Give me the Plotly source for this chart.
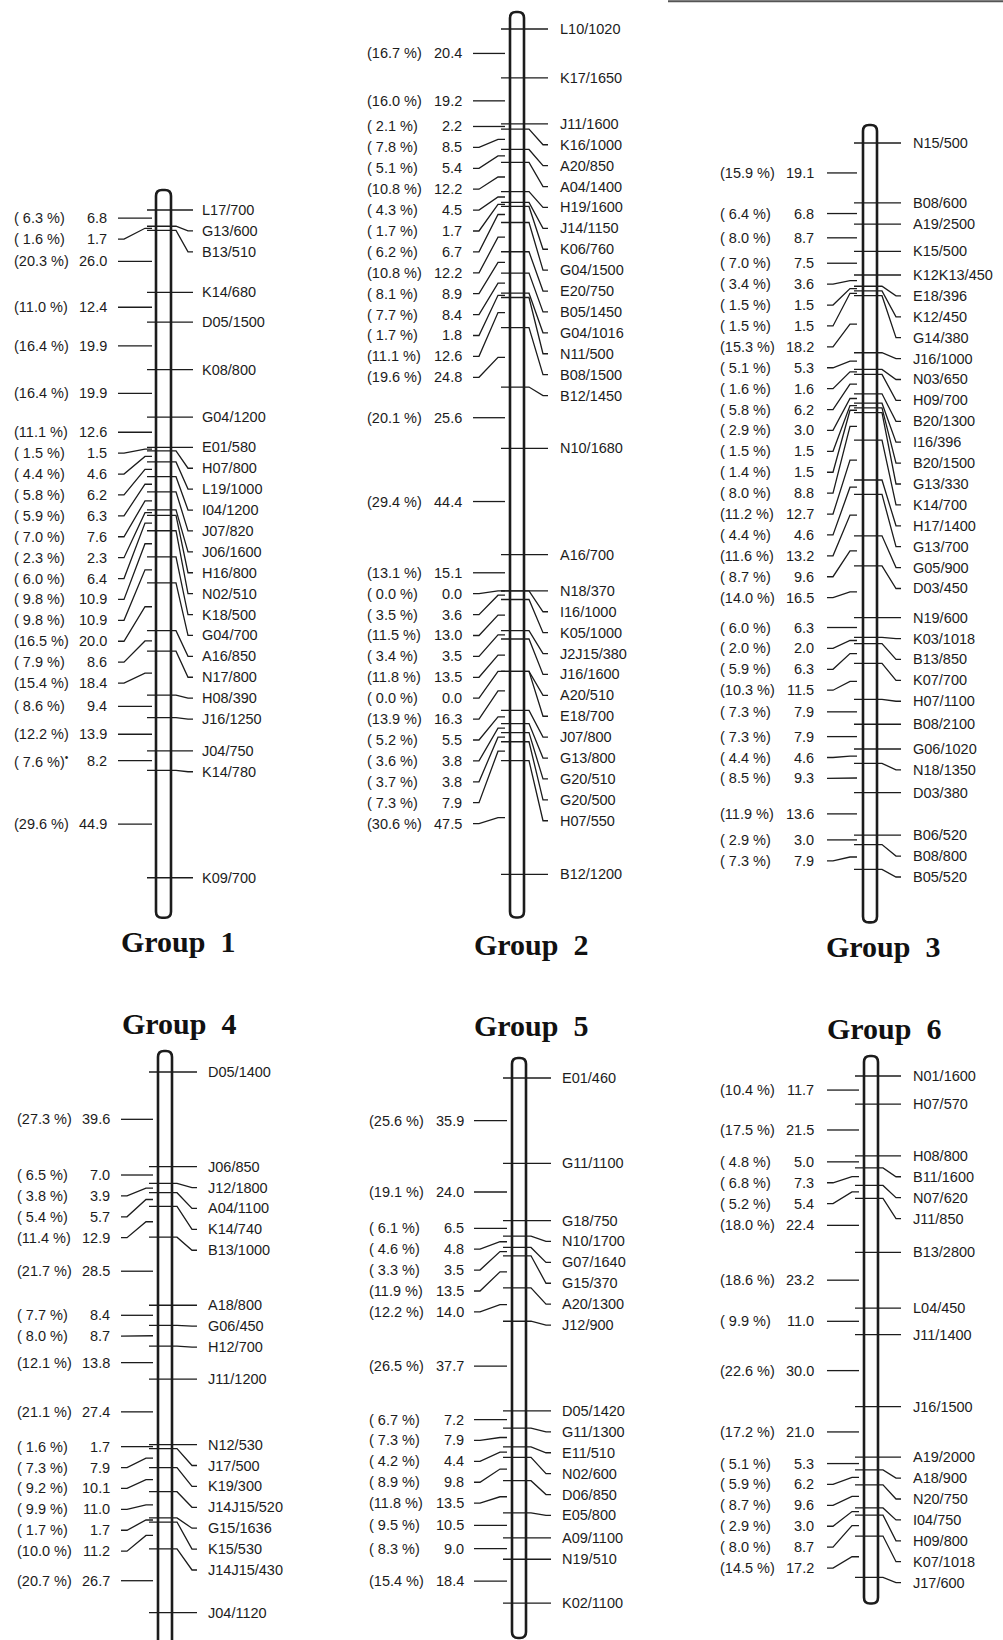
import plotly.graph_objects as go

# ------------------------------------------------------------------ data
G1_MARKERS = ["L17/700", "G13/600", "B13/510", "K14/680", "D05/1500", "K08/800",
              "G04/1200", "E01/580", "H07/800", "L19/1000", "I04/1200", "J07/820",
              "J06/1600", "H16/800", "N02/510", "K18/500", "G04/700", "A16/850",
              "N17/800", "H08/390", "J16/1250", "J04/750", "K14/780", "K09/700"]
G1_CM = [6.8, 1.7, 26.0, 12.4, 19.9, 19.9, 12.6, 1.5, 4.6, 6.2, 6.3, 7.6, 2.3,
         6.4, 10.9, 10.9, 20.0, 8.6, 18.4, 9.4, 13.9, 8.2, 44.9]
G1_PCT = [6.3, 1.6, 20.3, 11.0, 16.4, 16.4, 11.1, 1.5, 4.4, 5.8, 5.9, 7.0, 2.3,
          6.0, 9.8, 9.8, 16.5, 7.9, 15.4, 8.6, 12.2, 7.6, 29.6]

G2_MARKERS = ["L10/1020", "K17/1650", "J11/1600", "K16/1000", "A20/850", "A04/1400",
              "H19/1600", "J14/1150", "K06/760", "G04/1500", "E20/750", "B05/1450",
              "G04/1016", "N11/500", "B08/1500", "B12/1450", "N10/1680", "A16/700",
              "N18/370", "I16/1000", "K05/1000", "J2J15/380", "J16/1600", "A20/510",
              "E18/700", "J07/800", "G13/800", "G20/510", "G20/500", "H07/550",
              "B12/1200"]
G2_CM = [20.4, 19.2, 2.2, 8.5, 5.4, 12.2, 4.5, 1.7, 6.7, 12.2, 8.9, 8.4, 1.8, 12.6,
         24.8, 25.6, 44.4, 15.1, 0.0, 3.6, 13.0, 3.5, 13.5, 0.0, 16.3, 5.5, 3.8,
         3.8, 7.9, 47.5]
G2_PCT = [16.7, 16.0, 2.1, 7.8, 5.1, 10.8, 4.3, 1.7, 6.2, 10.8, 8.1, 7.7, 1.7, 11.1,
          19.6, 20.1, 29.4, 13.1, 0.0, 3.5, 11.5, 3.4, 11.8, 0.0, 13.9, 5.2, 3.6,
          3.7, 7.3, 30.6]

G3_MARKERS = ["N15/500", "B08/600", "A19/2500", "K15/500", "K12K13/450", "E18/396",
              "K12/450", "G14/380", "J16/1000", "N03/650", "H09/700", "B20/1300",
              "I16/396", "B20/1500", "G13/330", "K14/700", "H17/1400", "G13/700",
              "G05/900", "D03/450", "N19/600", "K03/1018", "B13/850", "K07/700",
              "H07/1100", "B08/2100", "G06/1020", "N18/1350", "D03/380", "B06/520",
              "B08/800", "B05/520"]
G3_CM = [19.1, 6.8, 8.7, 7.5, 3.6, 1.5, 1.5, 18.2, 5.3, 1.6, 6.2, 3.0, 1.5, 1.5,
         8.8, 12.7, 4.6, 13.2, 9.6, 16.5, 6.3, 2.0, 6.3, 11.5, 7.9, 7.9, 4.6, 9.3,
         13.6, 3.0, 7.9]
G3_PCT = [15.9, 6.4, 8.0, 7.0, 3.4, 1.5, 1.5, 15.3, 5.1, 1.6, 5.8, 2.9, 1.5, 1.4,
          8.0, 11.2, 4.4, 11.6, 8.7, 14.0, 6.0, 2.0, 5.9, 10.3, 7.3, 7.3, 4.4, 8.5,
          11.9, 2.9, 7.3]

G4_MARKERS = ["D05/1400", "J06/850", "J12/1800", "A04/1100", "K14/740", "B13/1000",
              "A18/800", "G06/450", "H12/700", "J11/1200", "N12/530", "J17/500",
              "K19/300", "J14J15/520", "G15/1636", "K15/530", "J14J15/430", "J04/1120"]
G4_CM = [39.6, 7.0, 3.9, 5.7, 12.9, 28.5, 8.4, 8.7, 13.8, 27.4, 1.7, 7.9, 10.1,
         11.0, 1.7, 11.2, 26.7]
G4_PCT = [27.3, 6.5, 3.8, 5.4, 11.4, 21.7, 7.7, 8.0, 12.1, 21.1, 1.6, 7.3, 9.2,
          9.9, 1.7, 10.0, 20.7]

G5_MARKERS = ["E01/460", "G11/1100", "G18/750", "N10/1700", "G07/1640", "G15/370",
              "A20/1300", "J12/900", "D05/1420", "G11/1300", "E11/510", "N02/600",
              "D06/850", "E05/800", "A09/1100", "N19/510", "K02/1100"]
G5_CM = [35.9, 24.0, 6.5, 4.8, 3.5, 13.5, 14.0, 37.7, 7.2, 7.9, 4.4, 9.8, 13.5,
         10.5, 9.0, 18.4]
G5_PCT = [25.6, 19.1, 6.1, 4.6, 3.3, 11.9, 12.2, 26.5, 6.7, 7.3, 4.2, 8.9, 11.8,
          9.5, 8.3, 15.4]

G6_MARKERS = ["N01/1600", "H07/570", "H08/800", "B11/1600", "N07/620", "J11/850",
              "B13/2800", "L04/450", "J11/1400", "J16/1500", "A19/2000", "A18/900",
              "N20/750", "I04/750", "H09/800", "K07/1018", "J17/600"]
G6_CM = [11.7, 21.5, 5.0, 7.3, 5.4, 22.4, 23.2, 11.0, 30.0, 21.0, 5.3, 6.2, 9.6,
         3.0, 8.7, 17.2]
G6_PCT = [10.4, 17.5, 4.8, 6.8, 5.2, 18.0, 18.6, 9.9, 22.6, 17.2, 5.1, 5.9, 8.7,
          2.9, 8.0, 14.5]

GROUP_NAMES = ["Group 1", "Group 2", "Group 3", "Group 4", "Group 5", "Group 6"]
# (group index, interval index) of the flagged interval
FLAGGED = [(0, 21)]

GROUPS = [
    (G1_MARKERS, G1_CM, G1_PCT),
    (G2_MARKERS, G2_CM, G2_PCT),
    (G3_MARKERS, G3_CM, G3_PCT),
    (G4_MARKERS, G4_CM, G4_PCT),
    (G5_MARKERS, G5_CM, G5_PCT),
    (G6_MARKERS, G6_CM, G6_PCT),
]

# ------------------------------------------------------------------ layout / style
W, H = 1003, 1640
GAP_PX = 20.9
INK = "#1c1c1c"
SANS = "Liberation Sans, Arial, Helvetica, sans-serif"
SERIF = "Liberation Serif, Times New Roman, serif"
FS = 14.5

# top: pixel row of the first marker, scale: pixels per cM
PANELS = [
    dict(top=210, scale=2.39, chrom=(156, 171), cap=(20, 40), tick_l=147, tick_r=193,
         lab_x=200, lline=(118, 152), num_x=109, pct_x=12, title=(178, 942)),
    dict(top=29, scale=2.395, chrom=(510, 524), cap=(17, 43), tick_l=501, tick_r=548,
         lab_x=558, lline=(473, 505), num_x=464, pct_x=365, title=(531, 945)),
    dict(top=143, scale=3.135, chrom=(863, 877), cap=(18, 53), tick_l=854, tick_r=901,
         lab_x=911, lline=(827, 857), num_x=816, pct_x=718, title=(883, 947)),
    dict(top=1072, scale=2.39, chrom=(158, 172), cap=(21, 60), tick_l=149, tick_r=197,
         lab_x=206, lline=(121, 153), num_x=112, pct_x=15, title=(179, 1023)),
    dict(top=1078, scale=2.38, chrom=(512, 526), cap=(20, 35), tick_l=503, tick_r=551,
         lab_x=560, lline=(474, 507), num_x=466, pct_x=367, title=(531, 1025)),
    dict(top=1076, scale=2.405, chrom=(864, 878), cap=(20, 26), tick_l=855, tick_r=901,
         lab_x=911, lline=(827, 859), num_x=816, pct_x=718, title=(884, 1028)),
]


def spread(targets, gap):
    out = []
    for t in targets:
        v = t if not out else max(t, out[-1] + gap)
        out.append(v)
    return out


def nb(s):
    return s.replace(" ", "\u00a0")


fig = go.Figure()
shapes = []
annotations = []
axes = {}

for gi, ((markers, cm, pct), P) in enumerate(zip(GROUPS, PANELS)):
    yname = "y" if gi == 0 else f"y{gi + 1}"
    axkey = "yaxis" if gi == 0 else f"yaxis{gi + 1}"
    s = P["scale"]
    top = P["top"]
    ax = dict(domain=[0, 1], range=[(H - top) / s, -top / s], visible=False,
              fixedrange=True, anchor="x")
    if gi > 0:
        ax["overlaying"] = "y"
    axes[axkey] = ax

    pos = [0.0]
    for d in cm:
        pos.append(pos[-1] + d)
    mids = [(pos[i] + pos[i + 1]) / 2 for i in range(len(cm))]
    gap = GAP_PX / s
    lab_r = spread(pos, gap)
    lab_l = spread(mids, gap)

    cl, cr = P["chrom"]

    # right-hand marker connectors
    xs, ys = [], []
    for t, l in zip(pos, lab_r):
        xs += [P["tick_l"], cr + 5, P["tick_r"] - 5, P["tick_r"], None]
        ys += [t, t, l, l, None]
    fig.add_trace(go.Scatter(x=xs, y=ys, xaxis="x", yaxis=yname, mode="lines",
                             line=dict(color=INK, width=1.3), hoverinfo="skip",
                             showlegend=False))
    # left-hand distance connectors
    xs, ys = [], []
    l0, l1 = P["lline"]
    for m, l in zip(mids, lab_l):
        xs += [l0, l0 + 6, l1 - 7, l1, None]
        ys += [l, l, m, m, None]
    fig.add_trace(go.Scatter(x=xs, y=ys, xaxis="x", yaxis=yname, mode="lines",
                             line=dict(color=INK, width=1.3), hoverinfo="skip",
                             showlegend=False))

    # chromosome outline (rounded bar)
    ct = -P["cap"][0] / s
    cb = pos[-1] + P["cap"][1] / s
    rx = 6
    ry = 6 / s
    path = (f"M {cl},{ct + ry} Q {cl},{ct} {cl + rx},{ct} L {cr - rx},{ct} "
            f"Q {cr},{ct} {cr},{ct + ry} L {cr},{cb - ry} Q {cr},{cb} {cr - rx},{cb} "
            f"L {cl + rx},{cb} Q {cl},{cb} {cl},{cb - ry} Z")
    shapes.append(dict(type="path", path=path, xref="x", yref=yname,
                       line=dict(color=INK, width=2.6), fillcolor="rgba(0,0,0,0)",
                       layer="above"))

    # marker labels
    for name, l in zip(markers, lab_r):
        annotations.append(dict(x=P["lab_x"], y=l, xref="x", yref=yname, text=name,
                                showarrow=False, xanchor="left", yanchor="middle",
                                font=dict(family=SANS, size=FS, color=INK)))
    # distance labels
    for j, (d, p, l) in enumerate(zip(cm, pct, lab_l)):
        annotations.append(dict(x=P["num_x"], y=l, xref="x", yref=yname,
                                text=f"{d:.1f}", showarrow=False, xanchor="right",
                                yanchor="middle",
                                font=dict(family=SANS, size=FS, color=INK)))
        ptxt = nb(f"({p:4.1f} %)")
        if (gi, j) in FLAGGED:
            ptxt += "<sup>•</sup>"
        annotations.append(dict(x=P["pct_x"], y=l, xref="x", yref=yname, text=ptxt,
                                showarrow=False, xanchor="left", yanchor="middle",
                                font=dict(family=SANS, size=FS, color=INK)))

    # group title
    tx, ty = P["title"]
    annotations.append(dict(x=tx, y=1 - ty / H, xref="x", yref="paper",
                            text="<b>" + GROUP_NAMES[gi].replace(" ", "\u00a0\u00a0") + "</b>",
                            showarrow=False, xanchor="center", yanchor="middle",
                            font=dict(family=SERIF, size=30, color="#111111")))

# thin rule at the top edge (page artefact)
shapes.append(dict(type="line", xref="paper", yref="paper", x0=668 / W, x1=1,
                   y0=1 - 1.2 / H, y1=1 - 1.2 / H, line=dict(color="#555555", width=2)))

fig.update_layout(
    width=W, height=H, margin=dict(l=0, r=0, t=0, b=0),
    paper_bgcolor="white", plot_bgcolor="white", showlegend=False,
    xaxis=dict(domain=[0, 1], range=[0, W], visible=False, fixedrange=True),
    shapes=shapes, annotations=annotations,
    **axes,
)

fig.write_html("out.html",
               config={"displayModeBar": False, "staticPlot": True},
               post_script="document.body.style.margin='0';document.body.style.overflow='hidden';")
